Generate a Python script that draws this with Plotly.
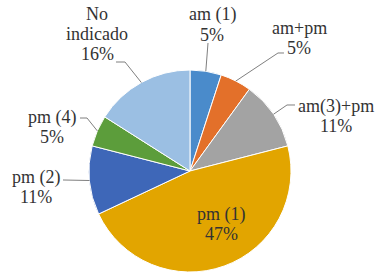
import math
import plotly.graph_objects as go

labels = ["am (1)", "am+pm", "am(3)+pm", "pm (1)", "pm (2)", "pm (4)", "No indicado"]
values = [5, 5, 11, 47, 11, 5, 16]
label_lines = [["am (1)", "5%"], ["am+pm", "5%"], ["am(3)+pm", "11%"], ["pm (1)", "47%"],
               ["pm (2)", "11%"], ["pm (4)", "5%"], ["No", "indicado", "16%"]]
colors = ["#4A8BCB", "#E3702A", "#A3A3A3", "#E2A500", "#3E67B8", "#5C9D3B", "#9BBFE3"]

W, H = 375, 274
CX, CY, R = 190, 171, 101  # pie centre / radius in pixels
LINE_GAP = 20

# label layout (pixels): centre x of text, centre y of first line, leader elbow points
label_pos = {
    "am (1)": dict(tx=212, ty=15, elbow=[(208, 43)]),
    "am+pm": dict(tx=299, ty=28, elbow=[(284, 53), (278, 53)]),
    "am(3)+pm": dict(tx=336, ty=106, elbow=[(295, 105), (287, 105)]),
    "pm (1)": dict(tx=221, ty=214, elbow=None),
    "pm (2)": dict(tx=36, ty=177, elbow=[(63, 180)]),
    "pm (4)": dict(tx=52, ty=117, elbow=[(80, 118), (87, 118)]),
    "No indicado": dict(tx=97, ty=14, elbow=[(116, 62), (125, 62)]),
}

def to_paper(x, y):
    return x / W, 1 - y / H

fig = go.Figure(go.Pie(
    labels=labels, values=values, sort=False, direction="clockwise", rotation=0,
    marker=dict(colors=colors, line=dict(color="white", width=1)),
    textinfo="none", hoverinfo="label+percent", showlegend=False,
    domain=dict(x=[(CX - R) / W, (CX + R) / W], y=[1 - (CY + R) / H, 1 - (CY - R) / H]),
))

total = sum(values)
cum = 0
annotations, shapes = [], []
for lab, val, lines in zip(labels, values, label_lines):
    mid = (cum + val / 2) / total * 2 * math.pi
    cum += val
    p = label_pos[lab]
    for i, line in enumerate(lines):
        tx, ty = to_paper(p["tx"], p["ty"] + i * LINE_GAP)
        annotations.append(dict(x=tx, y=ty, xref="paper", yref="paper", text=line,
                                showarrow=False,
                                font=dict(family="Liberation Serif", size=18, color="#333333"),
                                xanchor="center", yanchor="middle"))
    if p["elbow"]:
        ex, ey = CX + R * math.sin(mid), CY - R * math.cos(mid)
        pts = p["elbow"] + [(ex, ey)]
        path = ""
        for i, (x, y) in enumerate(pts):
            px, py = to_paper(x, y)
            path += ("M" if i == 0 else " L") + f"{px:.4f},{py:.4f}"
        shapes.append(dict(type="path", path=path, xref="paper", yref="paper",
                           line=dict(color="#7f7f7f", width=1)))

fig.update_layout(width=W, height=H, margin=dict(l=0, r=0, t=0, b=0),
                  paper_bgcolor="white", plot_bgcolor="white",
                  annotations=annotations, shapes=shapes)

fig.write_html("out.html", config={"displayModeBar": False})
with open("out.html") as f:
    html = f.read()
html = html.replace("<head>", "<head><style>body{margin:0;}</style>", 1)
with open("out.html", "w") as f:
    f.write(html)
